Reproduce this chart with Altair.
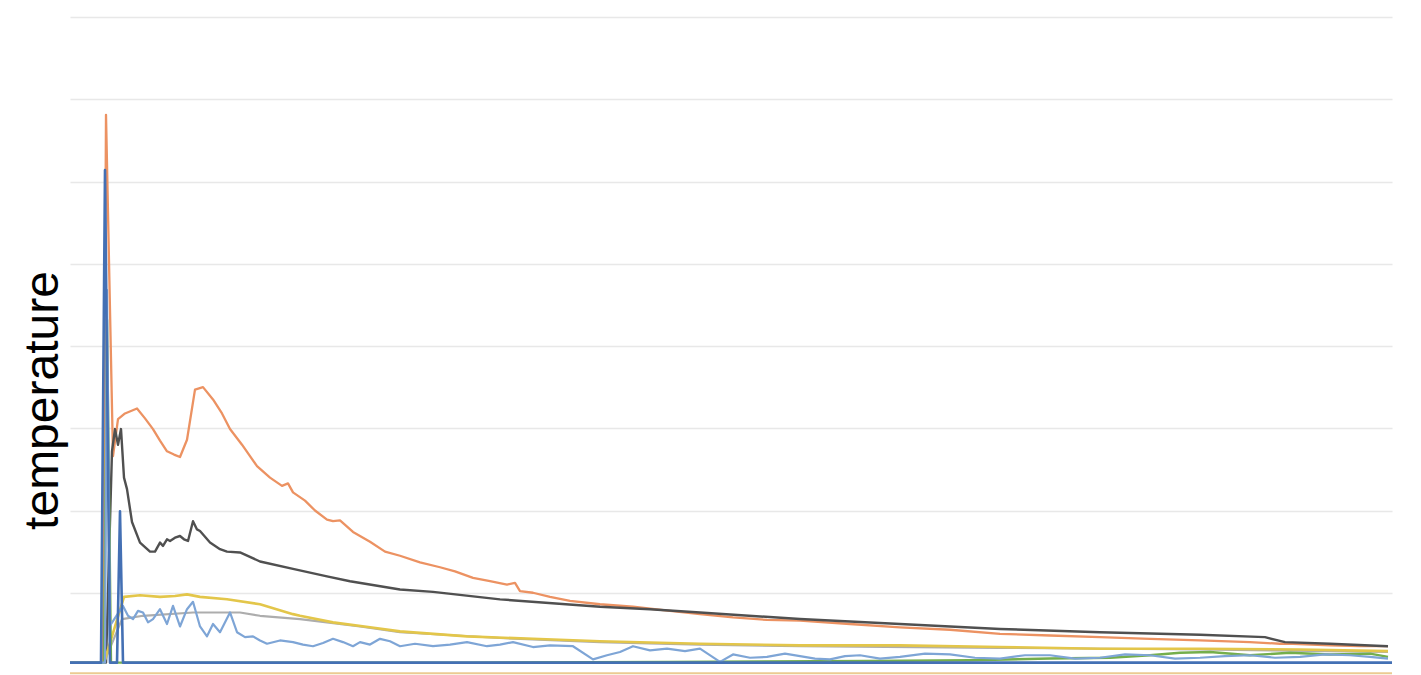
import altair as alt
import pandas as pd

# ---- data (time index, temperature) ----
orange_t = [0, 33, 36, 43, 48, 55, 67, 75, 83, 90, 97, 104, 110, 117, 125, 133, 143, 152, 160, 172, 187, 200, 212, 218, 223, 235, 245, 257, 263, 270, 283, 300, 315, 330, 350, 370, 385, 403, 420, 437, 445, 450, 463, 480, 500, 530, 563, 600, 630, 663, 697, 730, 780, 830, 880, 930, 980, 1030, 1080, 1130, 1180, 1210, 1223, 1260, 1290, 1318]
orange_v = [15, 15, 681, 266, 311, 318, 324, 312, 299, 285, 272, 268, 265, 286, 347, 350, 335, 318, 299, 280, 254, 240, 230, 233, 222, 212, 200, 189, 187, 188, 174, 162, 150, 145, 137, 131, 126, 118, 114, 110, 112, 102, 100, 95, 90, 86, 83, 78, 74, 70, 67, 66, 62, 58, 55, 50, 48, 46, 44, 42, 40, 38, 38, 36, 35, 35]

black_t = [0, 36, 42, 45, 48, 51, 54, 57, 62, 70, 80, 85, 90, 93, 97, 100, 105, 110, 114, 118, 123, 127, 130, 140, 150, 157, 170, 190, 223, 257, 280, 330, 363, 430, 530, 580, 630, 730, 830, 930, 1030, 1130, 1195, 1215, 1260, 1318]
black_v = [15, 15, 272, 299, 280, 299, 240, 226, 186, 161, 150, 150, 161, 157, 165, 163, 167, 169, 165, 163, 187, 177, 175, 161, 153, 150, 149, 138, 129, 120, 114, 104, 101, 92, 83, 80, 76, 68, 62, 56, 52, 49, 46, 40, 38, 35]

yellow_t = [0, 34, 54, 70, 90, 105, 117, 130, 157, 190, 223, 230, 263, 300, 330, 397, 463, 530, 630, 730, 830, 930, 1030, 1130, 1230, 1318]
yellow_v = [15, 15, 95, 97, 95, 96, 98, 95, 92, 86, 74, 72, 64, 58, 53, 47, 44, 41, 38, 36, 36, 34, 32, 32, 31, 29]

gray_t = [0, 34, 52, 73, 123, 170, 190, 230, 257, 290, 330, 430, 530, 630, 730, 930, 1130, 1318]
gray_v = [15, 15, 68, 72, 76, 76, 72, 68, 64, 59, 52, 45, 40, 37, 35, 33, 31, 28]

lightblue_t = [0, 35, 37, 40, 53, 58, 63, 68, 73, 78, 83, 90, 97, 103, 110, 117, 123, 130, 137, 143, 150, 160, 167, 175, 183, 190, 197, 210, 223, 233, 243, 253, 263, 273, 283, 290, 300, 310, 320, 330, 345, 363, 380, 397, 417, 430, 443, 463, 480, 503, 523, 537, 550, 563, 580, 597, 615, 630, 650, 663, 680, 697, 715, 730, 745, 760, 775, 790, 810, 830, 855, 880, 905, 930, 955, 980, 1005, 1030, 1055, 1080, 1105, 1130, 1155, 1180, 1205, 1230, 1255, 1280, 1300, 1318]
lightblue_v = [15, 15, 468, 60, 84, 72, 68, 78, 76, 64, 68, 80, 62, 84, 59, 80, 89, 59, 47, 62, 52, 76, 52, 46, 47, 42, 38, 42, 40, 37, 35, 39, 44, 40, 35, 40, 37, 44, 41, 35, 38, 35, 37, 40, 35, 37, 40, 34, 36, 35, 19, 24, 28, 35, 30, 32, 29, 32, 16, 25, 21, 22, 26, 23, 20, 19, 23, 24, 20, 22, 26, 25, 21, 20, 24, 24, 20, 21, 25, 24, 20, 21, 23, 24, 21, 22, 25, 24, 22, 20]

darkblue_t = [0, 31, 35, 40, 47, 50, 53, 1322]
darkblue_v = [15, 15, 614, 15, 15, 199, 15, 15]

green_t = [0, 34, 37, 41, 200, 400, 600, 800, 900, 980, 1040, 1080, 1110, 1140, 1180, 1220, 1260, 1300, 1318]
green_v = [15, 15, 432, 15, 15, 15, 16, 17, 18, 20, 21, 24, 27, 28, 24, 27, 25, 26, 22]

tan_t = [0, 1322]
tan_v = [2, 2]

series = [
    ("tan", tan_t, tan_v, "#EBCB92", 2.0),
    ("orange", orange_t, orange_v, "#EC9262", 2.3),
    ("black", black_t, black_v, "#505050", 2.4),
    ("gray", gray_t, gray_v, "#ADADAD", 2.2),
    ("yellow", yellow_t, yellow_v, "#E3C64A", 2.6),
    ("green", green_t, green_v, "#74AE4C", 2.4),
    ("lightblue", lightblue_t, lightblue_v, "#7EA5D6", 2.2),
    ("darkblue", darkblue_t, darkblue_v, "#4470B4", 2.6),
]

y_enc = alt.Y(
    "v:Q",
    scale=alt.Scale(domain=[0, 800], nice=False, zero=True),
    axis=alt.Axis(
        values=[100, 200, 300, 400, 500, 600, 700, 800],
        grid=True,
        gridColor="#E8E8E8",
        gridWidth=1.6,
        domain=False,
        ticks=False,
        labels=False,
        title="temperature",
        titleFont="Liberation Sans",
        titleFontSize=48,
        titleFontWeight="normal",
        titleColor="#000000",
        titleAngle=270,
        titleX=-13,
        titleY=383,
        titleAlign="center",
        titleBaseline="alphabetic",
    ),
)
x_enc = alt.X("t:Q", scale=alt.Scale(domain=[0, 1322], nice=False, zero=True), axis=None)

layers = []
for name, ts, vs, col, w in series:
    df = pd.DataFrame({"t": ts, "v": vs, "series": name})
    layers.append(
        alt.Chart(df).mark_line(color=col, strokeWidth=w, strokeJoin="round").encode(x=x_enc, y=y_enc)
    )

chart = (
    alt.layer(*layers)
    .properties(
        width=1322,
        height=658,
        autosize=alt.AutoSizeParams(type="none"),
        padding={"left": 70, "top": 17, "right": 29, "bottom": 0},
        background="white",
    )
    .configure_view(stroke=None)
)

chart.save("out.html", embed_options={"renderer": "svg", "actions": False})
